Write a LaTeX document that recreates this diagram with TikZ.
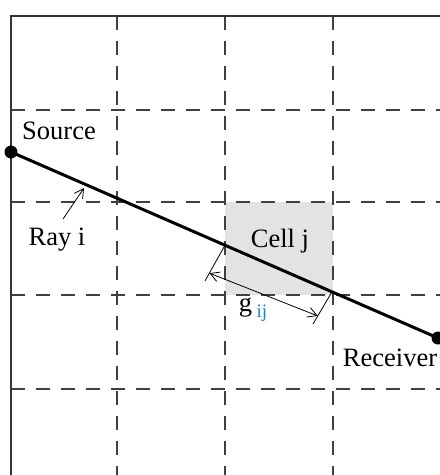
\documentclass[tikz,border=0pt]{standalone}
\usepackage{fontspec}
\setmainfont{Liberation Serif}
\usetikzlibrary{positioning,arrows.meta,calc}
\definecolor{subblue}{RGB}{30,130,200}
\tikzset{
  gridln/.style={draw=black!75,line width=1.1pt,dash pattern=on 14pt off 11pt},
  frame/.style={draw=black!80,line width=1.3pt},
  ray/.style={line width=3pt},
  dot/.style={circle,fill=black,inner sep=0pt,minimum size=13pt},
  lbl/.style={font=\fontsize{26.5}{30}\selectfont,inner sep=1pt},
  dim/.style={{Straight Barb[length=9pt,width=10pt]}-{Straight Barb[length=9pt,width=10pt]},line width=0.8pt},
  pointer/.style={-{Straight Barb[length=9pt,width=10pt]},line width=0.8pt},
  tick/.style={line width=0.8pt},
}

\begin{document}
\begin{tikzpicture}[x=1pt,y=-1pt]
  \useasboundingbox (0,0) rectangle (440,475);
  % shaded cell
  \fill[black!11] (225,202) rectangle (333,295);
  % grid
  \foreach \gx in {117,225,333}
    \draw[gridln] (\gx,16) -- (\gx,475);
  \foreach \gy in {110,202,295,389}
    \draw[gridln] (11,\gy) -- (440,\gy);
  \draw[frame] (11,475) -- (11,16) -- (440,16);
  % ray
  \node[dot] (src) at (11,152) {};
  \node[dot] (rcv) at (438,338) {};
  \draw[ray] (src.center) -- (rcv.center);
  \coordinate (cin) at (225,245.2);
  \coordinate (cout) at (332,291.8);
  \coordinate (tin) at (205,281);
  \coordinate (tout) at (313,324);
  \draw[tick] (cin) -- (tin);
  \draw[tick] (cout) -- (tout);
  \draw[dim] ($(cin)!0.78!(tin)$) -- ($(cout)!0.75!(tout)$);
  % labels
  \node[lbl] (srclbl) at (59,131) {Source};
  \node[lbl] (rcvlbl) at (390,358) {Receiver};
  \node[lbl] (cell) at (280,241) {Cell j};
  \node[lbl] (gij) at (253,310) {g\,\raisebox{-6pt}{\fontsize{19}{21}\selectfont\color{subblue}ij}};
  \node[lbl] (raylbl) at (57,240) {Ray i};
  \coordinate (raytail) at (63,219);
  \coordinate (rayhit) at (84,188);
  \draw[pointer] (raytail) -- (rayhit);
\end{tikzpicture}
\end{document}
